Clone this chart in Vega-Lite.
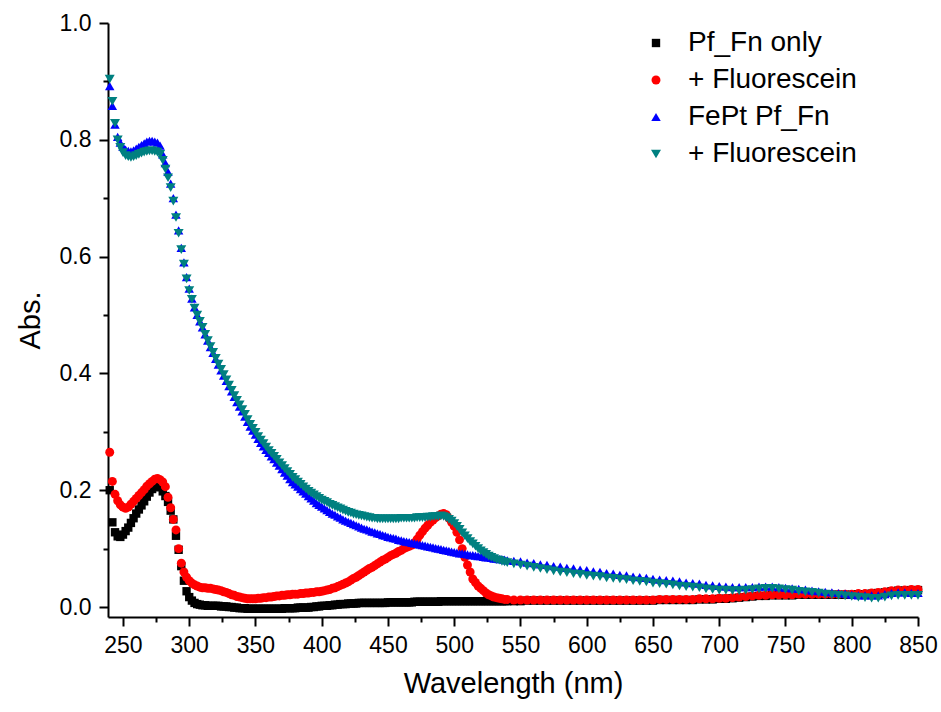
{
"$schema":"https://vega.github.io/schema/vega-lite/v6.json",
"width":810,"height":594,
"autosize":{"type":"none"},
"padding":{"left":108,"top":23,"right":23,"bottom":95},
"background":"white",
"config":{"view":{"stroke":null},"font":"Liberation Sans"},
"data":{"values":[
{"s":"a","x":240,"y":0.2},{"s":"a","x":242,"y":0.145},{"s":"a","x":244,"y":0.128},{"s":"a","x":246,"y":0.121},{"s":"a","x":248,"y":0.12},{"s":"a","x":250,"y":0.124},{"s":"a","x":252,"y":0.13},{"s":"a","x":254,"y":0.136},{"s":"a","x":256,"y":0.144},{"s":"a","x":258,"y":0.152},{"s":"a","x":260,"y":0.16},{"s":"a","x":262,"y":0.167},{"s":"a","x":264,"y":0.174},{"s":"a","x":266,"y":0.181},{"s":"a","x":268,"y":0.189},{"s":"a","x":270,"y":0.196},{"s":"a","x":272,"y":0.202},{"s":"a","x":274,"y":0.207},{"s":"a","x":276,"y":0.209},{"s":"a","x":278,"y":0.205},{"s":"a","x":280,"y":0.198},{"s":"a","x":282,"y":0.19},{"s":"a","x":284,"y":0.18},{"s":"a","x":286,"y":0.165},{"s":"a","x":288,"y":0.15},{"s":"a","x":290,"y":0.122},{"s":"a","x":292,"y":0.098},{"s":"a","x":294,"y":0.07},{"s":"a","x":296,"y":0.045},{"s":"a","x":298,"y":0.027},{"s":"a","x":300,"y":0.017},{"s":"a","x":302,"y":0.011},{"s":"a","x":304,"y":0.007},{"s":"a","x":306,"y":0.005},{"s":"a","x":308,"y":0.004},{"s":"a","x":310,"y":0.003},{"s":"a","x":312,"y":0.003},{"s":"a","x":314,"y":0.002},{"s":"a","x":316,"y":0.002},{"s":"a","x":318,"y":0.002},{"s":"a","x":320,"y":0.002},{"s":"a","x":322,"y":0.002},{"s":"a","x":324,"y":0.001},{"s":"a","x":326,"y":0.001},{"s":"a","x":328,"y":0.001},{"s":"a","x":330,"y":0},{"s":"a","x":332,"y":0},{"s":"a","x":334,"y":-0.001},{"s":"a","x":336,"y":-0.001},{"s":"a","x":338,"y":-0.002},{"s":"a","x":340,"y":-0.002},{"s":"a","x":342,"y":-0.002},{"s":"a","x":344,"y":-0.003},{"s":"a","x":346,"y":-0.003},{"s":"a","x":348,"y":-0.003},{"s":"a","x":350,"y":-0.003},{"s":"a","x":352,"y":-0.003},{"s":"a","x":354,"y":-0.003},{"s":"a","x":356,"y":-0.003},{"s":"a","x":358,"y":-0.003},{"s":"a","x":360,"y":-0.003},{"s":"a","x":362,"y":-0.003},{"s":"a","x":364,"y":-0.003},{"s":"a","x":366,"y":-0.003},{"s":"a","x":368,"y":-0.003},{"s":"a","x":370,"y":-0.003},{"s":"a","x":372,"y":-0.002},{"s":"a","x":374,"y":-0.002},{"s":"a","x":376,"y":-0.002},{"s":"a","x":378,"y":-0.002},{"s":"a","x":380,"y":-0.002},{"s":"a","x":382,"y":-0.001},{"s":"a","x":384,"y":-0.001},{"s":"a","x":386,"y":-0.001},{"s":"a","x":388,"y":-0.001},{"s":"a","x":390,"y":-0.001},{"s":"a","x":392,"y":0},{"s":"a","x":394,"y":0},{"s":"a","x":396,"y":0.001},{"s":"a","x":398,"y":0.001},{"s":"a","x":400,"y":0.002},{"s":"a","x":402,"y":0.002},{"s":"a","x":404,"y":0.002},{"s":"a","x":406,"y":0.003},{"s":"a","x":408,"y":0.003},{"s":"a","x":410,"y":0.004},{"s":"a","x":412,"y":0.004},{"s":"a","x":414,"y":0.005},{"s":"a","x":416,"y":0.005},{"s":"a","x":418,"y":0.005},{"s":"a","x":420,"y":0.006},{"s":"a","x":422,"y":0.006},{"s":"a","x":424,"y":0.006},{"s":"a","x":426,"y":0.006},{"s":"a","x":428,"y":0.007},{"s":"a","x":430,"y":0.007},{"s":"a","x":432,"y":0.007},{"s":"a","x":434,"y":0.007},{"s":"a","x":436,"y":0.007},{"s":"a","x":438,"y":0.007},{"s":"a","x":440,"y":0.007},{"s":"a","x":442,"y":0.007},{"s":"a","x":444,"y":0.007},{"s":"a","x":446,"y":0.007},{"s":"a","x":448,"y":0.007},{"s":"a","x":450,"y":0.008},{"s":"a","x":452,"y":0.008},{"s":"a","x":454,"y":0.008},{"s":"a","x":456,"y":0.008},{"s":"a","x":458,"y":0.008},{"s":"a","x":460,"y":0.008},{"s":"a","x":462,"y":0.008},{"s":"a","x":464,"y":0.008},{"s":"a","x":466,"y":0.008},{"s":"a","x":468,"y":0.008},{"s":"a","x":470,"y":0.009},{"s":"a","x":472,"y":0.009},{"s":"a","x":474,"y":0.009},{"s":"a","x":476,"y":0.009},{"s":"a","x":478,"y":0.009},{"s":"a","x":480,"y":0.009},{"s":"a","x":482,"y":0.009},{"s":"a","x":484,"y":0.009},{"s":"a","x":486,"y":0.009},{"s":"a","x":488,"y":0.009},{"s":"a","x":490,"y":0.01},{"s":"a","x":492,"y":0.01},{"s":"a","x":494,"y":0.01},{"s":"a","x":496,"y":0.01},{"s":"a","x":498,"y":0.01},{"s":"a","x":500,"y":0.01},{"s":"a","x":502,"y":0.01},{"s":"a","x":504,"y":0.01},{"s":"a","x":506,"y":0.01},{"s":"a","x":508,"y":0.01},{"s":"a","x":510,"y":0.01},{"s":"a","x":512,"y":0.01},{"s":"a","x":514,"y":0.01},{"s":"a","x":516,"y":0.01},{"s":"a","x":518,"y":0.01},{"s":"a","x":520,"y":0.01},{"s":"a","x":522,"y":0.01},{"s":"a","x":524,"y":0.01},{"s":"a","x":526,"y":0.01},{"s":"a","x":528,"y":0.01},{"s":"a","x":530,"y":0.01},{"s":"a","x":532,"y":0.01},{"s":"a","x":534,"y":0.01},{"s":"a","x":536,"y":0.01},{"s":"a","x":538,"y":0.01},{"s":"a","x":540,"y":0.01},{"s":"a","x":545,"y":0.01},{"s":"a","x":550,"y":0.01},{"s":"a","x":555,"y":0.011},{"s":"a","x":560,"y":0.011},{"s":"a","x":565,"y":0.011},{"s":"a","x":570,"y":0.011},{"s":"a","x":575,"y":0.011},{"s":"a","x":580,"y":0.011},{"s":"a","x":585,"y":0.011},{"s":"a","x":590,"y":0.011},{"s":"a","x":595,"y":0.011},{"s":"a","x":600,"y":0.011},{"s":"a","x":605,"y":0.011},{"s":"a","x":610,"y":0.011},{"s":"a","x":615,"y":0.011},{"s":"a","x":620,"y":0.011},{"s":"a","x":625,"y":0.011},{"s":"a","x":630,"y":0.011},{"s":"a","x":635,"y":0.011},{"s":"a","x":640,"y":0.011},{"s":"a","x":645,"y":0.011},{"s":"a","x":650,"y":0.011},{"s":"a","x":655,"y":0.012},{"s":"a","x":660,"y":0.012},{"s":"a","x":665,"y":0.012},{"s":"a","x":670,"y":0.012},{"s":"a","x":675,"y":0.012},{"s":"a","x":680,"y":0.012},{"s":"a","x":685,"y":0.013},{"s":"a","x":690,"y":0.013},{"s":"a","x":695,"y":0.013},{"s":"a","x":700,"y":0.014},{"s":"a","x":705,"y":0.014},{"s":"a","x":710,"y":0.015},{"s":"a","x":715,"y":0.016},{"s":"a","x":720,"y":0.017},{"s":"a","x":725,"y":0.018},{"s":"a","x":730,"y":0.019},{"s":"a","x":735,"y":0.019},{"s":"a","x":740,"y":0.02},{"s":"a","x":745,"y":0.02},{"s":"a","x":750,"y":0.02},{"s":"a","x":755,"y":0.02},{"s":"a","x":760,"y":0.021},{"s":"a","x":765,"y":0.021},{"s":"a","x":770,"y":0.021},{"s":"a","x":775,"y":0.021},{"s":"a","x":780,"y":0.021},{"s":"a","x":785,"y":0.021},{"s":"a","x":790,"y":0.021},{"s":"a","x":795,"y":0.021},{"s":"a","x":800,"y":0.021},{"s":"a","x":805,"y":0.022},{"s":"a","x":810,"y":0.022},{"s":"a","x":815,"y":0.023},{"s":"a","x":820,"y":0.024},{"s":"a","x":825,"y":0.025},{"s":"a","x":830,"y":0.027},{"s":"a","x":835,"y":0.028},{"s":"a","x":840,"y":0.028},{"s":"a","x":845,"y":0.029},{"s":"a","x":850,"y":0.029},
{"s":"b","x":240,"y":0.265},{"s":"b","x":242,"y":0.215},{"s":"b","x":244,"y":0.193},{"s":"b","x":246,"y":0.182},{"s":"b","x":248,"y":0.175},{"s":"b","x":250,"y":0.171},{"s":"b","x":252,"y":0.169},{"s":"b","x":254,"y":0.171},{"s":"b","x":256,"y":0.176},{"s":"b","x":258,"y":0.181},{"s":"b","x":260,"y":0.186},{"s":"b","x":262,"y":0.191},{"s":"b","x":264,"y":0.196},{"s":"b","x":266,"y":0.201},{"s":"b","x":268,"y":0.207},{"s":"b","x":270,"y":0.211},{"s":"b","x":272,"y":0.215},{"s":"b","x":274,"y":0.219},{"s":"b","x":276,"y":0.22},{"s":"b","x":278,"y":0.218},{"s":"b","x":280,"y":0.214},{"s":"b","x":282,"y":0.206},{"s":"b","x":284,"y":0.188},{"s":"b","x":286,"y":0.17},{"s":"b","x":288,"y":0.15},{"s":"b","x":290,"y":0.132},{"s":"b","x":292,"y":0.1},{"s":"b","x":294,"y":0.075},{"s":"b","x":296,"y":0.06},{"s":"b","x":298,"y":0.051},{"s":"b","x":300,"y":0.045},{"s":"b","x":302,"y":0.041},{"s":"b","x":304,"y":0.038},{"s":"b","x":306,"y":0.036},{"s":"b","x":308,"y":0.034},{"s":"b","x":310,"y":0.033},{"s":"b","x":312,"y":0.033},{"s":"b","x":314,"y":0.032},{"s":"b","x":316,"y":0.032},{"s":"b","x":318,"y":0.031},{"s":"b","x":320,"y":0.03},{"s":"b","x":322,"y":0.029},{"s":"b","x":324,"y":0.028},{"s":"b","x":326,"y":0.026},{"s":"b","x":328,"y":0.025},{"s":"b","x":330,"y":0.023},{"s":"b","x":332,"y":0.021},{"s":"b","x":334,"y":0.02},{"s":"b","x":336,"y":0.018},{"s":"b","x":338,"y":0.017},{"s":"b","x":340,"y":0.016},{"s":"b","x":342,"y":0.015},{"s":"b","x":344,"y":0.014},{"s":"b","x":346,"y":0.014},{"s":"b","x":348,"y":0.014},{"s":"b","x":350,"y":0.014},{"s":"b","x":352,"y":0.015},{"s":"b","x":354,"y":0.015},{"s":"b","x":356,"y":0.016},{"s":"b","x":358,"y":0.016},{"s":"b","x":360,"y":0.017},{"s":"b","x":362,"y":0.017},{"s":"b","x":364,"y":0.018},{"s":"b","x":366,"y":0.019},{"s":"b","x":368,"y":0.019},{"s":"b","x":370,"y":0.02},{"s":"b","x":372,"y":0.02},{"s":"b","x":374,"y":0.021},{"s":"b","x":376,"y":0.021},{"s":"b","x":378,"y":0.022},{"s":"b","x":380,"y":0.022},{"s":"b","x":382,"y":0.022},{"s":"b","x":384,"y":0.023},{"s":"b","x":386,"y":0.023},{"s":"b","x":388,"y":0.024},{"s":"b","x":390,"y":0.024},{"s":"b","x":392,"y":0.025},{"s":"b","x":394,"y":0.025},{"s":"b","x":396,"y":0.026},{"s":"b","x":398,"y":0.026},{"s":"b","x":400,"y":0.027},{"s":"b","x":402,"y":0.028},{"s":"b","x":404,"y":0.029},{"s":"b","x":406,"y":0.03},{"s":"b","x":408,"y":0.032},{"s":"b","x":410,"y":0.033},{"s":"b","x":412,"y":0.035},{"s":"b","x":414,"y":0.037},{"s":"b","x":416,"y":0.039},{"s":"b","x":418,"y":0.041},{"s":"b","x":420,"y":0.043},{"s":"b","x":422,"y":0.046},{"s":"b","x":424,"y":0.049},{"s":"b","x":426,"y":0.051},{"s":"b","x":428,"y":0.054},{"s":"b","x":430,"y":0.057},{"s":"b","x":432,"y":0.06},{"s":"b","x":434,"y":0.063},{"s":"b","x":436,"y":0.066},{"s":"b","x":438,"y":0.068},{"s":"b","x":440,"y":0.071},{"s":"b","x":442,"y":0.074},{"s":"b","x":444,"y":0.077},{"s":"b","x":446,"y":0.08},{"s":"b","x":448,"y":0.082},{"s":"b","x":450,"y":0.085},{"s":"b","x":452,"y":0.088},{"s":"b","x":454,"y":0.09},{"s":"b","x":456,"y":0.092},{"s":"b","x":458,"y":0.095},{"s":"b","x":460,"y":0.097},{"s":"b","x":462,"y":0.1},{"s":"b","x":464,"y":0.102},{"s":"b","x":466,"y":0.104},{"s":"b","x":468,"y":0.106},{"s":"b","x":470,"y":0.11},{"s":"b","x":472,"y":0.116},{"s":"b","x":474,"y":0.123},{"s":"b","x":476,"y":0.129},{"s":"b","x":478,"y":0.135},{"s":"b","x":480,"y":0.14},{"s":"b","x":482,"y":0.145},{"s":"b","x":484,"y":0.149},{"s":"b","x":486,"y":0.153},{"s":"b","x":488,"y":0.156},{"s":"b","x":490,"y":0.159},{"s":"b","x":492,"y":0.16},{"s":"b","x":494,"y":0.158},{"s":"b","x":496,"y":0.152},{"s":"b","x":498,"y":0.145},{"s":"b","x":500,"y":0.138},{"s":"b","x":502,"y":0.128},{"s":"b","x":504,"y":0.115},{"s":"b","x":506,"y":0.1},{"s":"b","x":508,"y":0.085},{"s":"b","x":510,"y":0.072},{"s":"b","x":512,"y":0.06},{"s":"b","x":514,"y":0.048},{"s":"b","x":516,"y":0.042},{"s":"b","x":518,"y":0.036},{"s":"b","x":520,"y":0.032},{"s":"b","x":522,"y":0.028},{"s":"b","x":524,"y":0.024},{"s":"b","x":526,"y":0.021},{"s":"b","x":528,"y":0.019},{"s":"b","x":530,"y":0.017},{"s":"b","x":532,"y":0.016},{"s":"b","x":534,"y":0.015},{"s":"b","x":536,"y":0.014},{"s":"b","x":538,"y":0.013},{"s":"b","x":540,"y":0.013},{"s":"b","x":545,"y":0.012},{"s":"b","x":550,"y":0.012},{"s":"b","x":555,"y":0.012},{"s":"b","x":560,"y":0.012},{"s":"b","x":565,"y":0.012},{"s":"b","x":570,"y":0.012},{"s":"b","x":575,"y":0.012},{"s":"b","x":580,"y":0.012},{"s":"b","x":585,"y":0.012},{"s":"b","x":590,"y":0.012},{"s":"b","x":595,"y":0.012},{"s":"b","x":600,"y":0.012},{"s":"b","x":605,"y":0.012},{"s":"b","x":610,"y":0.012},{"s":"b","x":615,"y":0.012},{"s":"b","x":620,"y":0.012},{"s":"b","x":625,"y":0.012},{"s":"b","x":630,"y":0.012},{"s":"b","x":635,"y":0.012},{"s":"b","x":640,"y":0.012},{"s":"b","x":645,"y":0.012},{"s":"b","x":650,"y":0.012},{"s":"b","x":655,"y":0.013},{"s":"b","x":660,"y":0.013},{"s":"b","x":665,"y":0.013},{"s":"b","x":670,"y":0.013},{"s":"b","x":675,"y":0.013},{"s":"b","x":680,"y":0.013},{"s":"b","x":685,"y":0.014},{"s":"b","x":690,"y":0.014},{"s":"b","x":695,"y":0.014},{"s":"b","x":700,"y":0.015},{"s":"b","x":705,"y":0.015},{"s":"b","x":710,"y":0.016},{"s":"b","x":715,"y":0.017},{"s":"b","x":720,"y":0.018},{"s":"b","x":725,"y":0.019},{"s":"b","x":730,"y":0.02},{"s":"b","x":735,"y":0.02},{"s":"b","x":740,"y":0.021},{"s":"b","x":745,"y":0.021},{"s":"b","x":750,"y":0.021},{"s":"b","x":755,"y":0.021},{"s":"b","x":760,"y":0.022},{"s":"b","x":765,"y":0.022},{"s":"b","x":770,"y":0.022},{"s":"b","x":775,"y":0.022},{"s":"b","x":780,"y":0.022},{"s":"b","x":785,"y":0.022},{"s":"b","x":790,"y":0.022},{"s":"b","x":795,"y":0.022},{"s":"b","x":800,"y":0.022},{"s":"b","x":805,"y":0.023},{"s":"b","x":810,"y":0.023},{"s":"b","x":815,"y":0.024},{"s":"b","x":820,"y":0.025},{"s":"b","x":825,"y":0.026},{"s":"b","x":830,"y":0.028},{"s":"b","x":835,"y":0.029},{"s":"b","x":840,"y":0.029},{"s":"b","x":845,"y":0.03},{"s":"b","x":850,"y":0.03},
{"s":"c","x":240,"y":0.892},{"s":"c","x":242,"y":0.858},{"s":"c","x":244,"y":0.826},{"s":"c","x":246,"y":0.805},{"s":"c","x":248,"y":0.795},{"s":"c","x":250,"y":0.788},{"s":"c","x":252,"y":0.783},{"s":"c","x":254,"y":0.781},{"s":"c","x":256,"y":0.78},{"s":"c","x":258,"y":0.782},{"s":"c","x":260,"y":0.785},{"s":"c","x":262,"y":0.788},{"s":"c","x":264,"y":0.791},{"s":"c","x":266,"y":0.794},{"s":"c","x":268,"y":0.797},{"s":"c","x":270,"y":0.798},{"s":"c","x":272,"y":0.798},{"s":"c","x":274,"y":0.797},{"s":"c","x":276,"y":0.795},{"s":"c","x":278,"y":0.79},{"s":"c","x":280,"y":0.775},{"s":"c","x":282,"y":0.76},{"s":"c","x":284,"y":0.745},{"s":"c","x":286,"y":0.725},{"s":"c","x":288,"y":0.7},{"s":"c","x":290,"y":0.672},{"s":"c","x":292,"y":0.645},{"s":"c","x":294,"y":0.615},{"s":"c","x":296,"y":0.59},{"s":"c","x":298,"y":0.565},{"s":"c","x":300,"y":0.545},{"s":"c","x":302,"y":0.528},{"s":"c","x":304,"y":0.513},{"s":"c","x":306,"y":0.5},{"s":"c","x":308,"y":0.489},{"s":"c","x":310,"y":0.479},{"s":"c","x":312,"y":0.467},{"s":"c","x":314,"y":0.456},{"s":"c","x":316,"y":0.445},{"s":"c","x":318,"y":0.435},{"s":"c","x":320,"y":0.425},{"s":"c","x":322,"y":0.415},{"s":"c","x":324,"y":0.405},{"s":"c","x":326,"y":0.396},{"s":"c","x":328,"y":0.387},{"s":"c","x":330,"y":0.378},{"s":"c","x":332,"y":0.369},{"s":"c","x":334,"y":0.36},{"s":"c","x":336,"y":0.351},{"s":"c","x":338,"y":0.343},{"s":"c","x":340,"y":0.335},{"s":"c","x":342,"y":0.326},{"s":"c","x":344,"y":0.317},{"s":"c","x":346,"y":0.309},{"s":"c","x":348,"y":0.302},{"s":"c","x":350,"y":0.295},{"s":"c","x":352,"y":0.288},{"s":"c","x":354,"y":0.281},{"s":"c","x":356,"y":0.275},{"s":"c","x":358,"y":0.269},{"s":"c","x":360,"y":0.264},{"s":"c","x":362,"y":0.258},{"s":"c","x":364,"y":0.253},{"s":"c","x":366,"y":0.247},{"s":"c","x":368,"y":0.242},{"s":"c","x":370,"y":0.236},{"s":"c","x":372,"y":0.23},{"s":"c","x":374,"y":0.225},{"s":"c","x":376,"y":0.219},{"s":"c","x":378,"y":0.214},{"s":"c","x":380,"y":0.21},{"s":"c","x":382,"y":0.206},{"s":"c","x":384,"y":0.202},{"s":"c","x":386,"y":0.198},{"s":"c","x":388,"y":0.194},{"s":"c","x":390,"y":0.19},{"s":"c","x":392,"y":0.186},{"s":"c","x":394,"y":0.182},{"s":"c","x":396,"y":0.178},{"s":"c","x":398,"y":0.175},{"s":"c","x":400,"y":0.172},{"s":"c","x":402,"y":0.169},{"s":"c","x":404,"y":0.166},{"s":"c","x":406,"y":0.163},{"s":"c","x":408,"y":0.16},{"s":"c","x":410,"y":0.158},{"s":"c","x":412,"y":0.155},{"s":"c","x":414,"y":0.153},{"s":"c","x":416,"y":0.15},{"s":"c","x":418,"y":0.148},{"s":"c","x":420,"y":0.146},{"s":"c","x":422,"y":0.144},{"s":"c","x":424,"y":0.142},{"s":"c","x":426,"y":0.14},{"s":"c","x":428,"y":0.138},{"s":"c","x":430,"y":0.136},{"s":"c","x":432,"y":0.134},{"s":"c","x":434,"y":0.133},{"s":"c","x":436,"y":0.131},{"s":"c","x":438,"y":0.129},{"s":"c","x":440,"y":0.128},{"s":"c","x":442,"y":0.126},{"s":"c","x":444,"y":0.125},{"s":"c","x":446,"y":0.123},{"s":"c","x":448,"y":0.122},{"s":"c","x":450,"y":0.12},{"s":"c","x":452,"y":0.119},{"s":"c","x":454,"y":0.118},{"s":"c","x":456,"y":0.117},{"s":"c","x":458,"y":0.115},{"s":"c","x":460,"y":0.114},{"s":"c","x":462,"y":0.113},{"s":"c","x":464,"y":0.112},{"s":"c","x":466,"y":0.111},{"s":"c","x":468,"y":0.11},{"s":"c","x":470,"y":0.109},{"s":"c","x":472,"y":0.108},{"s":"c","x":474,"y":0.107},{"s":"c","x":476,"y":0.106},{"s":"c","x":478,"y":0.105},{"s":"c","x":480,"y":0.104},{"s":"c","x":482,"y":0.103},{"s":"c","x":484,"y":0.102},{"s":"c","x":486,"y":0.101},{"s":"c","x":488,"y":0.1},{"s":"c","x":490,"y":0.099},{"s":"c","x":492,"y":0.098},{"s":"c","x":494,"y":0.097},{"s":"c","x":496,"y":0.096},{"s":"c","x":498,"y":0.095},{"s":"c","x":500,"y":0.094},{"s":"c","x":502,"y":0.093},{"s":"c","x":504,"y":0.092},{"s":"c","x":506,"y":0.092},{"s":"c","x":508,"y":0.091},{"s":"c","x":510,"y":0.09},{"s":"c","x":512,"y":0.089},{"s":"c","x":514,"y":0.089},{"s":"c","x":516,"y":0.088},{"s":"c","x":518,"y":0.087},{"s":"c","x":520,"y":0.087},{"s":"c","x":522,"y":0.086},{"s":"c","x":524,"y":0.085},{"s":"c","x":526,"y":0.085},{"s":"c","x":528,"y":0.084},{"s":"c","x":530,"y":0.083},{"s":"c","x":532,"y":0.083},{"s":"c","x":534,"y":0.082},{"s":"c","x":536,"y":0.082},{"s":"c","x":538,"y":0.081},{"s":"c","x":540,"y":0.08},{"s":"c","x":545,"y":0.079},{"s":"c","x":550,"y":0.078},{"s":"c","x":555,"y":0.076},{"s":"c","x":560,"y":0.075},{"s":"c","x":565,"y":0.073},{"s":"c","x":570,"y":0.072},{"s":"c","x":575,"y":0.07},{"s":"c","x":580,"y":0.069},{"s":"c","x":585,"y":0.067},{"s":"c","x":590,"y":0.066},{"s":"c","x":595,"y":0.064},{"s":"c","x":600,"y":0.063},{"s":"c","x":605,"y":0.061},{"s":"c","x":610,"y":0.06},{"s":"c","x":615,"y":0.058},{"s":"c","x":620,"y":0.057},{"s":"c","x":625,"y":0.055},{"s":"c","x":630,"y":0.054},{"s":"c","x":635,"y":0.052},{"s":"c","x":640,"y":0.051},{"s":"c","x":645,"y":0.05},{"s":"c","x":650,"y":0.048},{"s":"c","x":655,"y":0.047},{"s":"c","x":660,"y":0.046},{"s":"c","x":665,"y":0.045},{"s":"c","x":670,"y":0.044},{"s":"c","x":675,"y":0.042},{"s":"c","x":680,"y":0.041},{"s":"c","x":685,"y":0.04},{"s":"c","x":690,"y":0.038},{"s":"c","x":695,"y":0.037},{"s":"c","x":700,"y":0.036},{"s":"c","x":705,"y":0.035},{"s":"c","x":710,"y":0.034},{"s":"c","x":715,"y":0.034},{"s":"c","x":720,"y":0.034},{"s":"c","x":725,"y":0.034},{"s":"c","x":730,"y":0.035},{"s":"c","x":735,"y":0.035},{"s":"c","x":740,"y":0.035},{"s":"c","x":745,"y":0.034},{"s":"c","x":750,"y":0.033},{"s":"c","x":755,"y":0.032},{"s":"c","x":760,"y":0.031},{"s":"c","x":765,"y":0.03},{"s":"c","x":770,"y":0.028},{"s":"c","x":775,"y":0.027},{"s":"c","x":780,"y":0.026},{"s":"c","x":785,"y":0.025},{"s":"c","x":790,"y":0.024},{"s":"c","x":795,"y":0.023},{"s":"c","x":800,"y":0.021},{"s":"c","x":805,"y":0.02},{"s":"c","x":810,"y":0.02},{"s":"c","x":815,"y":0.02},{"s":"c","x":820,"y":0.02},{"s":"c","x":825,"y":0.022},{"s":"c","x":830,"y":0.024},{"s":"c","x":835,"y":0.025},{"s":"c","x":840,"y":0.025},{"s":"c","x":845,"y":0.024},{"s":"c","x":850,"y":0.024},
{"s":"d","x":240,"y":0.904},{"s":"d","x":242,"y":0.866},{"s":"d","x":244,"y":0.828},{"s":"d","x":246,"y":0.8},{"s":"d","x":248,"y":0.787},{"s":"d","x":250,"y":0.778},{"s":"d","x":252,"y":0.773},{"s":"d","x":254,"y":0.771},{"s":"d","x":256,"y":0.77},{"s":"d","x":258,"y":0.771},{"s":"d","x":260,"y":0.773},{"s":"d","x":262,"y":0.775},{"s":"d","x":264,"y":0.777},{"s":"d","x":266,"y":0.779},{"s":"d","x":268,"y":0.78},{"s":"d","x":270,"y":0.781},{"s":"d","x":272,"y":0.781},{"s":"d","x":274,"y":0.78},{"s":"d","x":276,"y":0.779},{"s":"d","x":278,"y":0.775},{"s":"d","x":280,"y":0.765},{"s":"d","x":282,"y":0.75},{"s":"d","x":284,"y":0.735},{"s":"d","x":286,"y":0.718},{"s":"d","x":288,"y":0.695},{"s":"d","x":290,"y":0.667},{"s":"d","x":292,"y":0.64},{"s":"d","x":294,"y":0.612},{"s":"d","x":296,"y":0.587},{"s":"d","x":298,"y":0.562},{"s":"d","x":300,"y":0.542},{"s":"d","x":302,"y":0.527},{"s":"d","x":304,"y":0.512},{"s":"d","x":306,"y":0.5},{"s":"d","x":308,"y":0.489},{"s":"d","x":310,"y":0.479},{"s":"d","x":312,"y":0.467},{"s":"d","x":314,"y":0.456},{"s":"d","x":316,"y":0.446},{"s":"d","x":318,"y":0.436},{"s":"d","x":320,"y":0.426},{"s":"d","x":322,"y":0.416},{"s":"d","x":324,"y":0.407},{"s":"d","x":326,"y":0.398},{"s":"d","x":328,"y":0.389},{"s":"d","x":330,"y":0.38},{"s":"d","x":332,"y":0.371},{"s":"d","x":334,"y":0.362},{"s":"d","x":336,"y":0.354},{"s":"d","x":338,"y":0.346},{"s":"d","x":340,"y":0.338},{"s":"d","x":342,"y":0.33},{"s":"d","x":344,"y":0.321},{"s":"d","x":346,"y":0.313},{"s":"d","x":348,"y":0.306},{"s":"d","x":350,"y":0.299},{"s":"d","x":352,"y":0.292},{"s":"d","x":354,"y":0.286},{"s":"d","x":356,"y":0.28},{"s":"d","x":358,"y":0.274},{"s":"d","x":360,"y":0.268},{"s":"d","x":362,"y":0.263},{"s":"d","x":364,"y":0.258},{"s":"d","x":366,"y":0.253},{"s":"d","x":368,"y":0.247},{"s":"d","x":370,"y":0.242},{"s":"d","x":372,"y":0.237},{"s":"d","x":374,"y":0.232},{"s":"d","x":376,"y":0.227},{"s":"d","x":378,"y":0.222},{"s":"d","x":380,"y":0.218},{"s":"d","x":382,"y":0.214},{"s":"d","x":384,"y":0.21},{"s":"d","x":386,"y":0.206},{"s":"d","x":388,"y":0.202},{"s":"d","x":390,"y":0.198},{"s":"d","x":392,"y":0.195},{"s":"d","x":394,"y":0.192},{"s":"d","x":396,"y":0.189},{"s":"d","x":398,"y":0.186},{"s":"d","x":400,"y":0.183},{"s":"d","x":402,"y":0.181},{"s":"d","x":404,"y":0.179},{"s":"d","x":406,"y":0.176},{"s":"d","x":408,"y":0.174},{"s":"d","x":410,"y":0.172},{"s":"d","x":412,"y":0.17},{"s":"d","x":414,"y":0.168},{"s":"d","x":416,"y":0.166},{"s":"d","x":418,"y":0.164},{"s":"d","x":420,"y":0.162},{"s":"d","x":422,"y":0.161},{"s":"d","x":424,"y":0.159},{"s":"d","x":426,"y":0.158},{"s":"d","x":428,"y":0.157},{"s":"d","x":430,"y":0.156},{"s":"d","x":432,"y":0.155},{"s":"d","x":434,"y":0.154},{"s":"d","x":436,"y":0.153},{"s":"d","x":438,"y":0.152},{"s":"d","x":440,"y":0.152},{"s":"d","x":442,"y":0.151},{"s":"d","x":444,"y":0.151},{"s":"d","x":446,"y":0.151},{"s":"d","x":448,"y":0.151},{"s":"d","x":450,"y":0.151},{"s":"d","x":452,"y":0.151},{"s":"d","x":454,"y":0.151},{"s":"d","x":456,"y":0.151},{"s":"d","x":458,"y":0.151},{"s":"d","x":460,"y":0.152},{"s":"d","x":462,"y":0.152},{"s":"d","x":464,"y":0.152},{"s":"d","x":466,"y":0.152},{"s":"d","x":468,"y":0.152},{"s":"d","x":470,"y":0.152},{"s":"d","x":472,"y":0.153},{"s":"d","x":474,"y":0.153},{"s":"d","x":476,"y":0.153},{"s":"d","x":478,"y":0.153},{"s":"d","x":480,"y":0.154},{"s":"d","x":482,"y":0.154},{"s":"d","x":484,"y":0.155},{"s":"d","x":486,"y":0.155},{"s":"d","x":488,"y":0.155},{"s":"d","x":490,"y":0.156},{"s":"d","x":492,"y":0.155},{"s":"d","x":494,"y":0.153},{"s":"d","x":496,"y":0.15},{"s":"d","x":498,"y":0.147},{"s":"d","x":500,"y":0.143},{"s":"d","x":502,"y":0.138},{"s":"d","x":504,"y":0.133},{"s":"d","x":506,"y":0.127},{"s":"d","x":508,"y":0.122},{"s":"d","x":510,"y":0.117},{"s":"d","x":512,"y":0.112},{"s":"d","x":514,"y":0.108},{"s":"d","x":516,"y":0.104},{"s":"d","x":518,"y":0.1},{"s":"d","x":520,"y":0.096},{"s":"d","x":522,"y":0.093},{"s":"d","x":524,"y":0.09},{"s":"d","x":526,"y":0.087},{"s":"d","x":528,"y":0.085},{"s":"d","x":530,"y":0.083},{"s":"d","x":532,"y":0.081},{"s":"d","x":534,"y":0.08},{"s":"d","x":536,"y":0.078},{"s":"d","x":538,"y":0.077},{"s":"d","x":540,"y":0.076},{"s":"d","x":545,"y":0.074},{"s":"d","x":550,"y":0.072},{"s":"d","x":555,"y":0.07},{"s":"d","x":560,"y":0.068},{"s":"d","x":565,"y":0.066},{"s":"d","x":570,"y":0.064},{"s":"d","x":575,"y":0.062},{"s":"d","x":580,"y":0.06},{"s":"d","x":585,"y":0.059},{"s":"d","x":590,"y":0.057},{"s":"d","x":595,"y":0.056},{"s":"d","x":600,"y":0.054},{"s":"d","x":605,"y":0.053},{"s":"d","x":610,"y":0.052},{"s":"d","x":615,"y":0.05},{"s":"d","x":620,"y":0.049},{"s":"d","x":625,"y":0.048},{"s":"d","x":630,"y":0.047},{"s":"d","x":635,"y":0.045},{"s":"d","x":640,"y":0.044},{"s":"d","x":645,"y":0.043},{"s":"d","x":650,"y":0.041},{"s":"d","x":655,"y":0.04},{"s":"d","x":660,"y":0.039},{"s":"d","x":665,"y":0.038},{"s":"d","x":670,"y":0.036},{"s":"d","x":675,"y":0.035},{"s":"d","x":680,"y":0.034},{"s":"d","x":685,"y":0.033},{"s":"d","x":690,"y":0.031},{"s":"d","x":695,"y":0.03},{"s":"d","x":700,"y":0.029},{"s":"d","x":705,"y":0.029},{"s":"d","x":710,"y":0.028},{"s":"d","x":715,"y":0.028},{"s":"d","x":720,"y":0.029},{"s":"d","x":725,"y":0.03},{"s":"d","x":730,"y":0.031},{"s":"d","x":735,"y":0.032},{"s":"d","x":740,"y":0.032},{"s":"d","x":745,"y":0.031},{"s":"d","x":750,"y":0.03},{"s":"d","x":755,"y":0.029},{"s":"d","x":760,"y":0.027},{"s":"d","x":765,"y":0.026},{"s":"d","x":770,"y":0.025},{"s":"d","x":775,"y":0.024},{"s":"d","x":780,"y":0.022},{"s":"d","x":785,"y":0.021},{"s":"d","x":790,"y":0.02},{"s":"d","x":795,"y":0.019},{"s":"d","x":800,"y":0.018},{"s":"d","x":805,"y":0.017},{"s":"d","x":810,"y":0.016},{"s":"d","x":815,"y":0.015},{"s":"d","x":820,"y":0.015},{"s":"d","x":825,"y":0.017},{"s":"d","x":830,"y":0.019},{"s":"d","x":835,"y":0.02},{"s":"d","x":840,"y":0.02},{"s":"d","x":845,"y":0.02},{"s":"d","x":850,"y":0.02}
]},
"mark":{"type":"point","filled":true,"opacity":1,"strokeWidth":0},
"encoding":{
"x":{"field":"x","type":"quantitative","title":"Wavelength (nm)",
"scale":{"domain":[238.7,850],"nice":false,"zero":false},
"axis":{"values":[250,275,300,325,350,375,400,425,450,475,500,525,550,575,600,625,650,675,700,725,750,775,800,825,850],
"labelExpr":"datum.value % 50 === 0 ? datum.label : ''","labelOverlap":false,"labelFlush":false,"grid":false,
"tickSize":{"condition":{"test":"datum.value % 50 !== 0","value":5},"value":9},
"domainColor":"#000","domainWidth":2,"tickColor":"#000","tickWidth":2,
"labelFont":"Liberation Sans","labelFontSize":23,"labelColor":"#000","labelPadding":8,
"titleFont":"Liberation Sans","titleFontSize":29,"titleFontWeight":"normal","titleColor":"#000","titlePadding":12}},
"y":{"field":"y","type":"quantitative","title":"Abs.",
"scale":{"domain":[-0.0171,1.0],"nice":false,"zero":false},
"axis":{"values":[0,0.1,0.2,0.3,0.4,0.5,0.6,0.7,0.8,0.9,1.0],
"labelExpr":"round(datum.value*10) % 2 === 0 ? format(datum.value, '.1f') : ''","labelOverlap":false,"labelFlush":false,"grid":false,
"tickSize":{"condition":{"test":"round(datum.value*10) % 2 !== 0","value":5},"value":9},
"domainColor":"#000","domainWidth":2,"tickColor":"#000","tickWidth":2,
"labelFont":"Liberation Sans","labelFontSize":23,"labelColor":"#000","labelPadding":8,
"titleFont":"Liberation Sans","titleFontSize":29,"titleFontWeight":"normal","titleColor":"#000","titlePadding":14}},
"color":{"field":"s","type":"nominal","scale":{"domain":["a","b","c","d"],"range":["#000000","#ff0000","#0000ff","#008080"]},
"legend":{"title":null,"orient":"none","legendX":534,"legendY":6,"padding":0,"symbolSize":50,"labelFontSize":28,"labelFont":"Liberation Sans","labelColor":"#000","labelOffset":18,"labelLimit":0,"rowPadding":9,"symbolStrokeWidth":0,
"labelExpr":"datum.value === 'a' ? 'Pf_Fn only' : datum.value === 'c' ? 'FePt Pf_Fn' : '+ Fluorescein'"}},
"shape":{"field":"s","type":"nominal","scale":{"domain":["a","b","c","d"],"range":["square","circle","triangle-up","triangle-down"]}},
"size":{"field":"s","type":"nominal","scale":{"domain":["a","b","c","d"],"range":[70,100,140,140]},"legend":null}
}
}
